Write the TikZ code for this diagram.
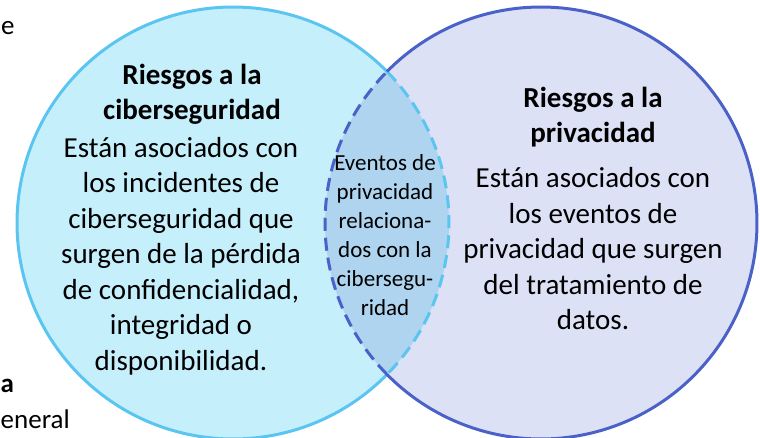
\documentclass[tikz,border=0pt]{standalone}
\usepackage{fontspec}
\setmainfont{Carlito}
\definecolor{cyberfill}{HTML}{C6EFFC}
\definecolor{cyberline}{HTML}{5BC5F2}
\definecolor{privfill}{HTML}{DDE1F5}
\definecolor{privline}{HTML}{4A62C8}
\definecolor{lensfill}{HTML}{AFD4F0}

\begin{document}
\begin{tikzpicture}[x=1pt, y=-1pt,
    cyber line/.style = {draw=cyberline, line width=3pt},
    priv line/.style  = {draw=privline, line width=3pt},
    dashy/.style      = {dash pattern=on 13pt off 7pt},
    title/.style      = {font=\fontsize{29}{35}\selectfont\bfseries,
      align=center, inner sep=0pt},
    body/.style       = {font=\fontsize{29}{35.5}\selectfont,
      align=center, inner sep=0pt},
    small/.style      = {font=\fontsize{23}{29}\selectfont,
      align=center, inner sep=0pt},
    margin/.style     = {font=\fontsize{27}{34}\selectfont,
      anchor=base west, inner sep=0pt}
  ]
  \path[use as bounding box] (0,0) rectangle (760,438);
  \coordinate (cyber) at (233,223);
  \coordinate (priv) at (541,223);

  \fill[cyberfill] (cyber) circle[radius=216];
  \fill[privfill] (priv) circle[radius=216];
  \begin{scope}
    \clip (cyber) circle[radius=216];
    \fill[lensfill] (priv) circle[radius=216];
  \end{scope}

  \draw[cyber line] (cyber) ++(44.5:216)
    arc[start angle=44.5, end angle=315.5, radius=216];
  \draw[cyber line, dashy] (cyber) ++(-44.5:216)
    arc[start angle=-44.5, end angle=44.5, radius=216];
  \draw[priv line] (priv) ++(-135.5:216)
    arc[start angle=-135.5, end angle=135.5, radius=216];
  \draw[priv line, dashy] (priv) ++(135.5:216)
    arc[start angle=135.5, end angle=224.5, radius=216];

  \node[title] (cybertitle) at (192,94.5) {Riesgos a la\\ciberseguridad};
  \node[body] (cybertext) at (181,256) {Están asociados con\\los incidentes de\\
    ciberseguridad que\\surgen de la pérdida\\de confidencialidad,\\
    integridad o\\disponibilidad.};
  \node[small] (overlap) at (385,235) {Eventos de\\privacidad\\relaciona-\\
    dos con la\\cibersegu-\\ridad};
  \node[title] (privtitle) at (593,117) {Riesgos a la\\privacidad};
  \node[body] (privtext) at (593,249) {Están asociados con\\los eventos de\\
    privacidad que surgen\\del tratamiento de\\datos.};

  \node[margin] (margintop) at (1,35) {e};
  \node[margin, font=\fontsize{27}{34}\selectfont\bfseries] (marginmid)
    at (0.5,392) {a};
  \node[margin] (marginlow) at (0.5,428) {eneral};
\end{tikzpicture}
\end{document}
